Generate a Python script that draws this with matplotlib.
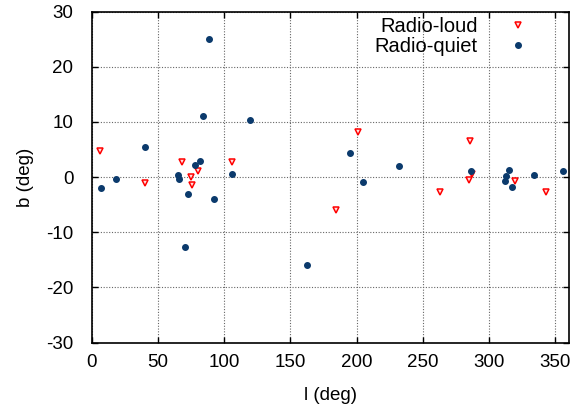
import matplotlib
matplotlib.use('Agg')
import matplotlib.pyplot as plt

plt.rcParams['font.family'] = ['Liberation Sans', 'DejaVu Sans']
plt.rcParams['font.size'] = 13.5
plt.rcParams['axes.unicode_minus'] = False

# Radio-loud sources (galactic l, b in deg)
loud_l = [6.3, 40.0, 68.6, 75.2, 80.0, 76.2, 106.3, 184.3, 200.8, 263.2,
          284.8, 285.8, 287.3, 319.7, 342.9]
loud_b = [4.8, -1.0, 2.8, 0.05, 1.0, -1.5, 2.8, -5.9, 8.1, -2.8,
          -0.5, 6.5, 0.5, -0.7, -2.8]

# Radio-quiet sources
quiet_l = [88.9, 84.5, 119.4, 40.7, 82.2, 78.2, 65.1, 65.9, 18.6, 7.3,
           106.3, 73.1, 92.5, 70.6, 162.6, 195.1, 204.9, 232.0, 286.3, 315.0,
           313.0, 312.2, 317.5, 333.8, 356.2]
quiet_b = [25.0, 11.0, 10.4, 5.4, 2.9, 2.1, 0.4, -0.4, -0.4, -2.0,
           0.5, -3.0, -4.0, -12.6, -16.0, 4.3, -0.9, 2.0, 1.1, 1.3,
           0.1, -0.7, -1.8, 0.4, 1.0]

xticks = [0, 50, 100, 150, 200, 250, 300, 350]
yticks = [-30, -20, -10, 0, 10, 20, 30]

fig = plt.figure(figsize=(5.83, 4.08), dpi=100)
ax = fig.add_axes([91.5/583, 1 - 342.5/408, 477/583, 331/408])

ax.plot(loud_l, loud_b, linestyle='', marker='v', markersize=4.6,
        markerfacecolor='#ffe0e0', markeredgecolor='red', markeredgewidth=1.1,
        label='Radio-loud', zorder=3)
ax.plot(quiet_l, quiet_b, linestyle='', marker='o', markersize=4.0,
        markerfacecolor='#0b3a6c', markeredgecolor='#0b3a6c',
        label='Radio-quiet', zorder=3)

ax.set_xlim(0, 360)
ax.set_ylim(-30, 30)
ax.set_xticks(xticks)
ax.set_yticks(yticks)
ax.tick_params(direction='in', length=4, width=1, top=True, right=True)
ax.tick_params(axis='x', pad=8)
ax.tick_params(axis='y', pad=13)
ax.grid(True, linestyle=(0, (1, 1.5)), color='#666666', linewidth=0.8)
for sp in ax.spines.values():
    sp.set_linewidth(1.2)

ax.set_xlabel('l (deg)', labelpad=12)
ax.set_ylabel('b (deg)', labelpad=9)

ax.legend(loc='upper right', bbox_to_anchor=(0.94, 1.02), frameon=False,
          markerfirst=False, handlelength=1.0, handletextpad=1.5,
          labelspacing=0.05, borderaxespad=0.2, fontsize=14.5)

fig.savefig('out.png', dpi=100)
